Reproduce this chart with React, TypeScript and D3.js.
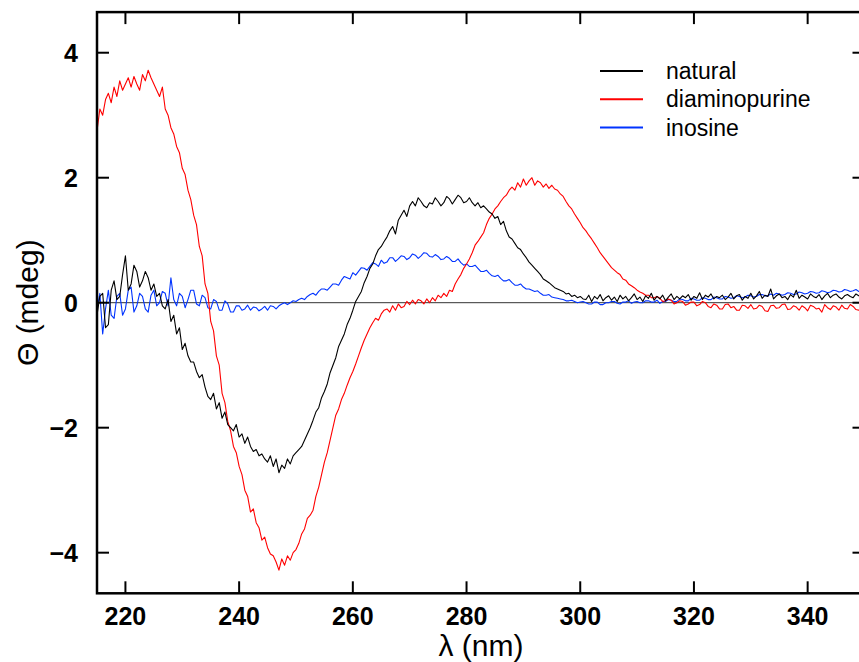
import React from "react";
import * as d3 from "d3";

const startNm = 215;
const stepNm = 0.5;

// Θ (mdeg) every 0.5 nm from 215 to 350 nm
const natural = [
  -0.2, 0.1, 0.15, -0.4, -0.35, 0.2, 0.35, 0.05, 0.1, 0.45,
  0.75, 0.2, 0.3, 0.6, 0.5, 0.25, 0.35, 0.5, 0.4, 0.2,
  0.3, 0.1, 0.15, -0.05, -0.1, 0.05, -0.3, -0.2, -0.5, -0.4,
  -0.75, -0.65, -0.85, -0.95, -0.95, -1.1, -1.2, -1.15, -1.35, -1.5,
  -1.55, -1.45, -1.7, -1.6, -1.85, -1.75, -1.95, -2.0, -2.05, -1.95,
  -2.15, -2.1, -2.25, -2.15, -2.3, -2.38, -2.35, -2.45, -2.42, -2.5,
  -2.55, -2.45, -2.62, -2.5, -2.72, -2.6, -2.65, -2.5, -2.58, -2.45,
  -2.4, -2.35, -2.3, -2.2, -2.1, -2.0, -1.88, -1.75, -1.68, -1.52,
  -1.42, -1.3, -1.12, -1.0, -0.88, -0.7, -0.6, -0.5, -0.35, -0.25,
  -0.12, 0.02, 0.1, 0.18, 0.32, 0.42, 0.55, 0.62, 0.75, 0.85,
  0.9, 0.98, 1.05, 1.15, 1.22, 1.1, 1.32, 1.4, 1.48, 1.38,
  1.55, 1.62, 1.55, 1.68, 1.62, 1.55, 1.52, 1.6, 1.58, 1.68,
  1.62, 1.55, 1.6, 1.7, 1.66, 1.58, 1.65, 1.72, 1.68, 1.6,
  1.62, 1.68, 1.6, 1.55, 1.6, 1.52, 1.55, 1.5, 1.45, 1.42,
  1.35, 1.38, 1.25, 1.3, 1.15, 1.05, 1.02, 0.95, 0.88, 0.85,
  0.78, 0.72, 0.65, 0.6, 0.55, 0.5, 0.45, 0.38, 0.35, 0.32,
  0.28, 0.24, 0.22, 0.2, 0.18, 0.14, 0.15, 0.1, 0.12, 0.08,
  0.1, 0.06, 0.05, 0.12, 0.02, 0.1, 0.06, 0.13, 0.03, 0.08,
  0.11, 0.04, 0.09, 0.02, 0.12, 0.06, 0.1, 0.03, 0.08, 0.14,
  0.05, 0.09, 0.02, 0.11, 0.07, 0.15, 0.04, 0.1, 0.06, 0.12,
  0.03, 0.09, 0.14, 0.05, 0.1, 0.06, 0.11, 0.08, 0.13, 0.04,
  0.1, 0.07, 0.16, 0.05, 0.12, 0.09, 0.14, 0.06, 0.1, 0.08,
  0.12, 0.05, 0.09, 0.15, 0.06, 0.11, 0.13, 0.04, 0.1, 0.07,
  0.15, 0.06, 0.11, 0.18, 0.07, 0.12, 0.1, 0.22, 0.06, 0.11,
  0.14, 0.08, 0.1, 0.05, 0.13, 0.09, 0.2, 0.07, 0.12, 0.09,
  0.06, 0.14, 0.1, 0.08, 0.13, 0.05, 0.11, 0.15, 0.08, 0.12,
  0.14, 0.09, 0.06, 0.11, 0.13, 0.1, 0.08, 0.14, 0.11, 0.09,
  0.12,
];

const diaminopurine = [
  2.75, 3.1, 3.0, 3.25, 3.35, 3.2, 3.45, 3.3, 3.55, 3.4,
  3.5, 3.6, 3.45, 3.62, 3.5, 3.4, 3.65, 3.55, 3.72, 3.6,
  3.5, 3.4, 3.3, 3.45, 3.1, 3.0, 2.8, 2.7, 2.5, 2.4,
  2.15, 2.05, 1.8, 1.65, 1.4, 1.25, 0.9, 0.75, 0.3, 0.15,
  -0.3, -0.45, -0.85, -1.0, -1.45, -1.6, -1.9, -2.05, -2.3, -2.4,
  -2.62, -2.75, -3.0, -3.1, -3.35, -3.3, -3.52, -3.6, -3.8, -3.75,
  -3.92, -4.02, -4.05, -4.15, -4.28, -4.1, -4.2, -4.05, -4.12, -4.0,
  -3.95, -3.85, -3.7, -3.62, -3.45, -3.4, -3.32, -3.1, -2.95, -2.75,
  -2.55, -2.4, -2.2, -2.0, -1.8, -1.7, -1.55, -1.45, -1.32, -1.2,
  -1.1, -0.98, -0.85, -0.72, -0.6, -0.5, -0.4, -0.32, -0.25, -0.28,
  -0.18, -0.12, -0.1, -0.15, -0.05, -0.12, -0.02, -0.08, -0.06, 0.02,
  -0.03, 0.04, -0.02, 0.05, 0.03, -0.02, 0.06, 0.0, 0.08, 0.03,
  0.12, 0.08, 0.15, 0.1, 0.2, 0.18, 0.3, 0.38, 0.45, 0.55,
  0.62, 0.7, 0.8, 0.92, 0.98, 1.05, 1.12, 1.25, 1.35, 1.42,
  1.5, 1.55, 1.62, 1.68, 1.72, 1.8, 1.85, 1.8, 1.92, 1.85,
  1.98, 1.88, 1.95, 2.0, 1.88, 1.95, 1.92, 1.85, 1.9, 1.83,
  1.88, 1.82, 1.8, 1.74, 1.7, 1.62, 1.55, 1.5, 1.42, 1.35,
  1.28, 1.2, 1.15, 1.08, 1.02, 0.95, 0.88, 0.8, 0.74, 0.68,
  0.62, 0.56, 0.52, 0.48, 0.45, 0.38, 0.36, 0.3, 0.27, 0.24,
  0.2, 0.17, 0.15, 0.12, 0.12, 0.08, 0.08, 0.1, 0.07, 0.02,
  0.03, 0.06, 0.04, -0.02, 0.0, 0.03, 0.02, -0.04, -0.02, 0.01,
  0.01, -0.05, -0.03, 0.02, 0.0, -0.06, -0.08, -0.02, -0.04, -0.1,
  -0.1, -0.03, -0.02, -0.08, -0.06, -0.12, -0.12, -0.04, -0.05, -0.09,
  -0.03, -0.1, -0.09, -0.04, -0.06, -0.13, -0.14, -0.05, -0.04, -0.09,
  -0.08, -0.03, -0.02, -0.11, -0.1, -0.05, -0.07, -0.12, -0.05, -0.08,
  -0.13, -0.04, -0.06, -0.1, -0.09, -0.15, -0.03, -0.08, -0.11, -0.05,
  -0.07, -0.12, -0.04, -0.09, -0.1, -0.03, -0.06, -0.11, -0.12, -0.07,
  -0.08,
];

const inosine = [
  -0.1, 0.15, -0.5, -0.1, 0.2, -0.2, -0.25, 0.1, 0.15, -0.2,
  -0.1, 0.2, 0.25, -0.15, -0.05, 0.15, 0.1, -0.1, -0.15, 0.12,
  0.2, -0.05, 0.0, 0.18, 0.15, -0.05, 0.4, 0.05, -0.05, 0.15,
  0.1, -0.08, 0.05, 0.2, 0.2, -0.02, -0.05, 0.12, 0.08, -0.08,
  -0.1, 0.05, 0.02, -0.12, -0.12, 0.03, -0.02, -0.15, -0.15, -0.05,
  -0.05, -0.12, -0.1, -0.04, -0.12, -0.07, -0.08, -0.13, -0.1, -0.06,
  -0.12, -0.05, -0.06, -0.1, -0.05, -0.02, 0.0, -0.03, 0.0, 0.03,
  0.02, 0.05, 0.07, 0.05, 0.1, 0.13, 0.15, 0.12, 0.18, 0.22,
  0.22, 0.2, 0.25, 0.3, 0.3, 0.28, 0.36, 0.42, 0.4, 0.38,
  0.48, 0.44, 0.5, 0.56, 0.55, 0.52, 0.58, 0.64, 0.62, 0.58,
  0.68, 0.63, 0.65, 0.72, 0.72, 0.66, 0.7, 0.75, 0.74, 0.69,
  0.72, 0.78, 0.76, 0.71, 0.75, 0.8, 0.79, 0.74, 0.73, 0.77,
  0.74, 0.69, 0.7, 0.74, 0.71, 0.66, 0.66, 0.7, 0.64, 0.6,
  0.62, 0.58, 0.58, 0.6, 0.55, 0.5, 0.5, 0.52, 0.47, 0.43,
  0.42, 0.44, 0.39, 0.35, 0.35, 0.37, 0.32, 0.28, 0.28, 0.3,
  0.25, 0.22, 0.22, 0.2, 0.18, 0.19, 0.15, 0.12, 0.12, 0.13,
  0.09, 0.08, 0.07, 0.06, 0.05, 0.03, 0.03, 0.04, 0.02, 0.0,
  0.01, 0.02, 0.0, -0.02, -0.02, 0.01, 0.01, -0.03, -0.03, 0.0,
  0.0, 0.02, 0.02, -0.01, -0.02, 0.01, 0.01, 0.03, -0.01, 0.01,
  0.02, 0.0, 0.0, 0.03, 0.03, 0.01, 0.01, 0.04, -0.01, 0.02,
  0.02, 0.05, 0.04, 0.02, 0.02, 0.06, 0.05, 0.03, 0.03, 0.07,
  0.06, 0.04, 0.04, 0.08, 0.07, 0.05, 0.05, 0.09, 0.08, 0.06,
  0.06, 0.1, 0.09, 0.07, 0.08, 0.11, 0.1, 0.08, 0.09, 0.12,
  0.11, 0.09, 0.1, 0.13, 0.13, 0.11, 0.11, 0.14, 0.12, 0.15,
  0.14, 0.12, 0.13, 0.16, 0.15, 0.13, 0.14, 0.17, 0.16, 0.14,
  0.15, 0.18, 0.17, 0.15, 0.16, 0.19, 0.18, 0.16, 0.17, 0.2,
  0.19, 0.17, 0.18, 0.21, 0.2, 0.18, 0.19, 0.21, 0.18, 0.2,
  0.2,
];

const seriesNames = ["natural", "diaminopurine", "inosine"];
const seriesColors = ["#000000", "#ff0000", "#0033ff"];
const xTicks = [220, 240, 260, 280, 300, 320, 340];
const yTicks = [-4, -2, 0, 2, 4];

export default function App() {
  const left = 97, right = 864.5, top = 12.1, bottom = 593.3;
  const x = d3.scaleLinear().domain([215, 350]).range([left, right]);
  const y = d3.scaleLinear().domain([-4.65, 4.65]).range([bottom, top]);
  const line = d3
    .line<number>()
    .x((_, i) => x(startNm + i * stepNm))
    .y((d) => y(d));
  const font = "'Liberation Sans', Arial, Helvetica, sans-serif";
  const drawOrder = [2, 1, 0];
  const allData = [natural, diaminopurine, inosine];
  const tickLen = 12;

  return (
    <div style={{ position: "fixed", left: 0, top: 0, width: 859, height: 662, overflow: "hidden", background: "#fff" }}>
      <svg width={880} height={662} style={{ display: "block" }}>
        <defs>
          <clipPath id="plotclip">
            <rect x={left} y={top} width={right - left} height={bottom - top} />
          </clipPath>
        </defs>
        <rect x={0} y={0} width={880} height={662} fill="#fff" />
        <line x1={left} x2={right} y1={y(0)} y2={y(0)} stroke="#333" strokeWidth={1} />
        <g clipPath="url(#plotclip)">
          {drawOrder.map((k) => (
            <path key={k} d={line(allData[k]) || ""} fill="none" stroke={seriesColors[k]} strokeWidth={1.1} strokeLinejoin="round" />
          ))}
        </g>
        {xTicks.map((t) => (
          <g key={"xt" + t}>
            <line x1={x(t)} x2={x(t)} y1={bottom} y2={bottom - tickLen} stroke="#000" strokeWidth={2} />
            <line x1={x(t)} x2={x(t)} y1={top} y2={top + tickLen} stroke="#000" strokeWidth={2} />
            <text x={x(t)} y={625} textAnchor="middle" fontFamily={font} fontWeight="bold" fontSize={25} fill="#000">
              {t}
            </text>
          </g>
        ))}
        {yTicks.map((t) => (
          <g key={"yt" + t}>
            <line x1={left} x2={left + tickLen} y1={y(t)} y2={y(t)} stroke="#000" strokeWidth={2} />
            <line x1={right} x2={right - tickLen} y1={y(t)} y2={y(t)} stroke="#000" strokeWidth={2} />
            <text x={78} y={y(t) + 9} textAnchor="end" fontFamily={font} fontWeight="bold" fontSize={25} fill="#000">
              {t < 0 ? "\u2212" + Math.abs(t) : String(t)}
            </text>
          </g>
        ))}
        <rect x={left} y={top} width={right - left} height={bottom - top} fill="none" stroke="#000" strokeWidth={2.5} />
        <text x={481} y={656} textAnchor="middle" fontFamily={font} fontSize={30} fill="#000">
          λ (nm)
        </text>
        <text transform={`translate(38,${y(0)}) rotate(-90)`} textAnchor="middle" fontFamily={font} fontSize={30} fill="#000">
          Θ (mdeg)
        </text>
        {seriesNames.map((name, i) => {
          const ly = 71 + i * 28.3;
          return (
            <g key={name}>
              <line x1={600} x2={643} y1={ly} y2={ly} stroke={seriesColors[i]} strokeWidth={2} />
              <text x={666} y={ly + 8} fontFamily={font} fontSize={23} fill="#000">
                {name}
              </text>
            </g>
          );
        })}
      </svg>
    </div>
  );
}
